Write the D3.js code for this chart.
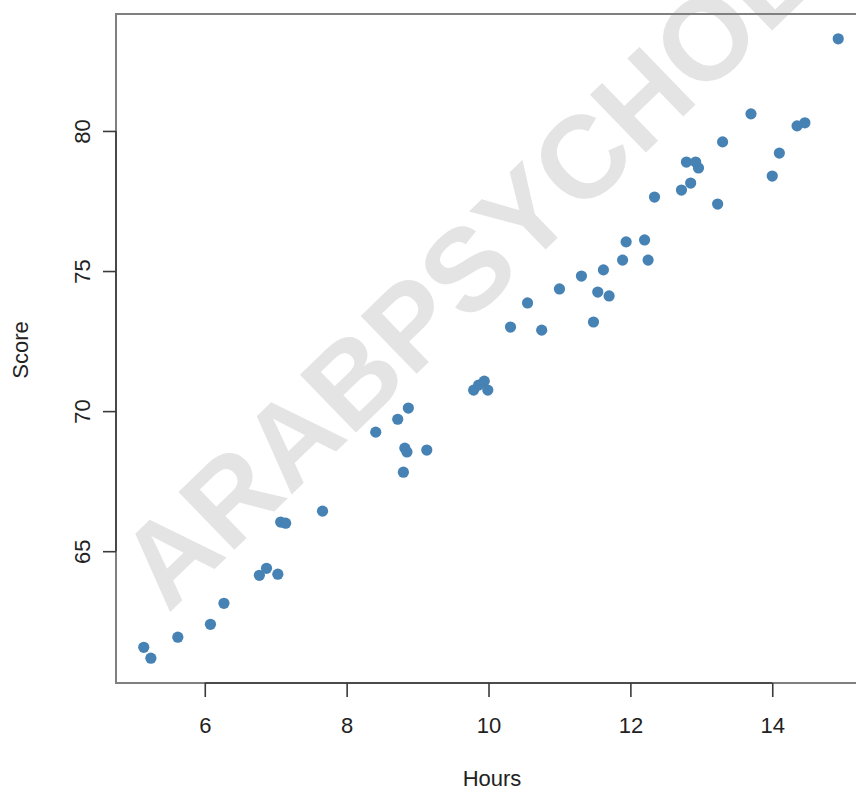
<!DOCTYPE html>
<html>
<head>
<meta charset="utf-8">
<script src="https://cdn.jsdelivr.net/npm/d3@7"></script>
<style>
  body { margin: 0; background: #fff; }
  svg { display: block; }
  text { font-family: "Liberation Sans", Arial, sans-serif; }
</style>
</head>
<body>
<div id="chart"></div>
<script>
var hours = [5.14, 5.24, 5.62, 6.08, 6.27, 6.77, 6.87, 7.03, 7.07, 7.14,
  7.66, 8.41, 8.72, 8.87, 8.82, 8.85, 9.13, 8.80, 9.79, 9.86,
  9.94, 9.99, 10.31, 10.55, 10.75, 11.00, 11.31, 11.48, 11.54, 11.62,
  11.70, 11.89, 11.94, 12.20, 12.25, 12.34, 12.72, 12.79, 12.85, 12.92,
  12.96, 13.23, 13.30, 13.70, 14.00, 14.10, 14.35, 14.46, 14.93];
var scores = [61.57, 61.18, 61.93, 62.39, 63.14, 64.14, 64.39, 64.18, 66.04, 66.00,
  66.43, 69.25, 69.71, 70.11, 68.68, 68.54, 68.61, 67.82, 70.75, 70.93,
  71.07, 70.75, 73.00, 73.86, 72.89, 74.36, 74.82, 73.18, 74.25, 75.04,
  74.11, 75.39, 76.04, 76.11, 75.39, 77.64, 77.89, 78.89, 78.14, 78.89,
  78.68, 77.39, 79.61, 80.61, 78.39, 79.21, 80.18, 80.29, 83.29];
var xTicks = [6, 8, 10, 12, 14];
var yTicks = [65, 70, 75, 80];

var width = 856, height = 789;
var points = hours.map(function(h, i) { return {h: h, s: scores[i]}; });

// R style 4% padding on both axes
var padRange = function(arr) {
  var ext = d3.extent(arr), p = (ext[1] - ext[0]) * 0.04;
  return [ext[0] - p, ext[1] + p];
};

var x = d3.scaleLinear().domain(padRange(hours)).range([116, 866]);
var y = d3.scaleLinear().domain(padRange(scores)).range([683, 14]);

var svg = d3.select("#chart").append("svg")
  .attr("width", width)
  .attr("height", height);

// watermark
svg.append("text")
  .attr("transform", "translate(168,614) rotate(-44)")
  .attr("font-size", 117)
  .attr("font-weight", "bold")
  .attr("fill", "#e4e4e4")
  .text("ARABPSYCHOLOGY.COM");

// box
svg.append("rect")
  .attr("x", x.range()[0])
  .attr("y", y.range()[1])
  .attr("width", x.range()[1] - x.range()[0])
  .attr("height", y.range()[0] - y.range()[1])
  .attr("fill", "none")
  .attr("stroke", "#808080")
  .attr("stroke-width", 2);

var xAxis = svg.append("g")
  .attr("transform", "translate(0," + y.range()[0] + ")")
  .call(d3.axisBottom(x).tickValues(xTicks).tickSize(14).tickPadding(20));
var yAxis = svg.append("g")
  .attr("transform", "translate(" + x.range()[0] + ",0)")
  .call(d3.axisLeft(y).tickValues(yTicks).tickSize(13).tickPadding(0));

[xAxis, yAxis].forEach(function(g) {
  g.select(".domain").attr("stroke", "#3a3a3a").attr("stroke-width", 1.6);
  g.selectAll(".tick line").attr("stroke", "#3a3a3a").attr("stroke-width", 1.6);
  g.selectAll(".tick text")
    .attr("font-family", "'Liberation Sans', Arial, sans-serif")
    .attr("font-size", 22)
    .attr("fill", "#222");
});
xAxis.select(".domain").attr("d", "M" + x(xTicks[0]) + ",0H" + x(xTicks[xTicks.length - 1]));
yAxis.select(".domain").attr("d", "M0," + y(yTicks[0]) + "V" + y(yTicks[yTicks.length - 1]));

yAxis.selectAll(".tick text")
  .attr("x", 0).attr("dy", 0)
  .attr("text-anchor", "middle")
  .attr("transform", "translate(-34,0) rotate(-90)")
  .attr("dy", "0.35em");

svg.selectAll(".pt")
  .data(points)
  .enter()
  .append("circle")
  .attr("class", "pt")
  .attr("cx", function(d) { return x(d.h); })
  .attr("cy", function(d) { return y(d.s); })
  .attr("r", 5.6)
  .attr("fill", "steelblue");

svg.append("text")
  .attr("x", 492)
  .attr("y", 786)
  .attr("text-anchor", "middle")
  .attr("font-size", 22)
  .attr("fill", "#222")
  .text("Hours");

svg.append("text")
  .attr("transform", "translate(28,350) rotate(-90)")
  .attr("text-anchor", "middle")
  .attr("font-size", 22)
  .attr("fill", "#222")
  .text("Score");
</script>
</body>
</html>
